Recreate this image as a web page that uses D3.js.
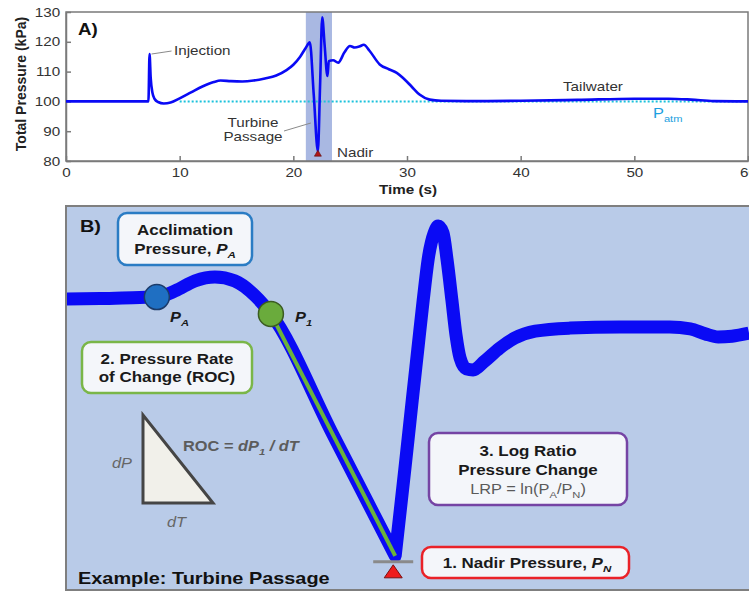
<!DOCTYPE html>
<html>
<head>
<meta charset="utf-8">
<script src="https://cdn.jsdelivr.net/npm/d3@7"></script>
<style>
  body { margin: 0; background: #fff; }
  svg { display: block; }
  text { font-family: "Liberation Sans", Arial, Helvetica, sans-serif; }
</style>
</head>
<body>
<svg id="fig" width="749" height="596"></svg>
<script>
// ---- Panel A: measured total pressure during passage ----
const timeA = [0, 7.25, 7.35, 7.45, 7.6, 7.8, 8.1, 8.6, 9.2, 10, 11, 12, 13, 13.6, 14.5, 15.5, 16.5, 17.5,
  18.5, 19.4, 20.0, 20.6, 21.1, 21.45, 21.8, 22.16, 22.35, 22.54, 22.75, 23.0, 23.12, 23.5, 23.95,
  24.5, 24.98, 25.4, 25.8, 26.2, 26.7, 27.6, 28.4, 29.1, 29.7, 30.4, 31.1, 32, 33, 36, 40, 45, 50,
  53, 55, 57, 60];
const pressureA = [100, 100, 115.9, 108, 103, 100.8, 99.8, 99.3, 99.6, 101, 103, 105, 106.5, 107, 106.8,
  106.7, 107, 107.7, 108.7, 110.5, 112.3, 115, 118, 119.8, 102, 83.3, 105, 128.2, 119, 108.5, 113.5,
  113.8, 113, 116.5, 118.6, 118.1, 118.4, 119, 117, 112.4, 110.8, 109.6, 107.7, 105, 102.3, 100.6,
  100.2, 100.1, 100.2, 100.5, 100.9, 100.9, 100.6, 100.1, 100];
const timeTicks = [0, 10, 20, 30, 40, 50, 60];
const pressureTicks = [80, 90, 100, 110, 120, 130];
const atmPressure = 100;
const atmLineStart = 10;
const passageWindow = [21.1, 23.4];
const nadirIndexA = 25;
const injectionIndexA = 2;

// ---- Panel B: schematic pressure trace (arbitrary units) ----
const schemT = [0, 5.0, 10.8, 13.3, 16.0, 18.9, 21.8, 24.7, 27.7, 30.0, 39.1, 48.2, 49.6, 50.7, 51.5,
  52.3, 53.1, 53.9, 54.5, 55.2, 55.8, 56.5, 57.1, 57.7, 58.6, 59.6, 61.3, 63.5, 65.7, 68.7, 73.8,
  81.1, 88.4, 91.4, 93.6, 95.5, 97.5, 100];
const schemP = [75.8, 75.9, 76.2, 76.3, 77.9, 80.5, 81.5, 80.5, 76.6, 71.9, 40.4, 8.9, 31.3, 49.5, 62.5,
  75.5, 87.0, 93.0, 94.8, 93.0, 85.9, 75.5, 66.4, 60.4, 57.6, 57.3, 59.6, 63.0, 65.6, 67.4, 68.2,
  68.5, 68.5, 68.0, 66.7, 65.9, 66.1, 66.9];
const idxPA = 3, idxP1 = 9, idxNadir = 11;

const SX = 1.17; // horizontal stretch used by the figure's lettering
const FONT = '"Liberation Sans", Arial, Helvetica, sans-serif';
const svg = d3.select("#fig");

// Text with optional italic / subscript runs: parts = [[string, flags]], flags: "i" italic, "s" subscript
function addText(parent, x, y, parts, o = {}) {
  const size = o.size || 13;
  const g = parent.append("g")
    .attr("transform", `translate(${x},${y})${o.rotate ? ` rotate(${o.rotate})` : ""} scale(${o.sx ?? SX},1)`);
  const t = g.append("text")
    .attr("text-anchor", o.anchor || "start")
    .attr("font-size", size)
    .attr("font-weight", o.weight || "normal")
    .attr("fill", o.fill || "#333");
  if (o.italic) t.attr("font-style", "italic");
  let shifted = false;
  (typeof parts === "string" ? [[parts, ""]] : parts).forEach(([s, f]) => {
    const sp = t.append("tspan").text(s);
    if (f.includes("i")) sp.attr("font-style", "italic");
    const sub = f.includes("s");
    if (sub) sp.attr("font-size", size * 0.68);
    if (sub && !shifted) { sp.attr("dy", size * 0.3); shifted = true; }
    else if (!sub && shifted) { sp.attr("dy", -size * 0.3); shifted = false; }
  });
  return g;
}

// =================== Panel A ===================
const xA = d3.scaleLinear().domain([0, 60]).range([66, 748]);
const yA = d3.scaleLinear().domain([80, 130]).range([161, 12]);
const gA = svg.append("g");

// turbine passage window
gA.append("rect")
  .attr("x", xA(passageWindow[0])).attr("y", yA(130))
  .attr("width", xA(passageWindow[1]) - xA(passageWindow[0]))
  .attr("height", yA(80) - yA(130))
  .attr("fill", "#a9b8e2");

// frame
gA.append("rect")
  .attr("x", xA(0)).attr("y", yA(130))
  .attr("width", xA(60) - xA(0)).attr("height", yA(80) - yA(130))
  .attr("fill", "none").attr("stroke", "#7a7a7a").attr("stroke-width", 1.5);

const axB = gA.append("g")
  .attr("transform", `translate(0,${yA(80)})`)
  .call(d3.axisBottom(xA).tickValues(timeTicks).tickSize(-5).tickSizeOuter(0).tickPadding(7));
const axL = gA.append("g")
  .attr("transform", `translate(${xA(0)},0)`)
  .call(d3.axisLeft(yA).tickValues(pressureTicks).tickSize(-5).tickSizeOuter(0).tickPadding(5));
[axB, axL].forEach(ax => {
  ax.attr("font-family", FONT).attr("font-size", 13);
  ax.select(".domain").attr("stroke", "#7a7a7a").attr("stroke-width", 1.5);
  ax.selectAll(".tick line").attr("stroke", "#7a7a7a").attr("stroke-width", 1.5);
  ax.selectAll(".tick text").attr("fill", "#333").attr("transform", `scale(${SX},1)`);
});

// atmospheric reference
gA.append("line")
  .attr("x1", xA(atmLineStart)).attr("x2", xA(60))
  .attr("y1", yA(atmPressure)).attr("y2", yA(atmPressure))
  .attr("stroke", "#1cc2dc").attr("stroke-width", 2).attr("stroke-dasharray", "2,2");

const lineA = d3.line().x((d, i) => xA(timeA[i])).y(d => yA(d)).curve(d3.curveMonotoneX);
gA.append("path").datum(pressureA)
  .attr("d", lineA).attr("fill", "none")
  .attr("stroke", "#0a0af5").attr("stroke-width", 2.6).attr("stroke-linejoin", "round");

// nadir marker
const nx = xA(timeA[nadirIndexA]), ny = yA(pressureA[nadirIndexA]);
gA.append("path")
  .attr("d", `M${nx},${ny - 1}L${nx + 3.5},${ny + 5}L${nx - 3.5},${ny + 5}Z`)
  .attr("fill", "#b01515").attr("stroke", "#5a0a0a").attr("stroke-width", 0.6);

// leaders
const ix = xA(timeA[injectionIndexA]), iy = yA(pressureA[injectionIndexA]);
gA.append("line").attr("x1", ix + 2).attr("y1", iy).attr("x2", ix + 22).attr("y2", iy - 3)
  .attr("stroke", "#8a8a8a").attr("stroke-width", 1);
gA.append("line").attr("x1", 284).attr("y1", 131).attr("x2", xA(passageWindow[0]) + 5).attr("y2", 123)
  .attr("stroke", "#8a8a8a").attr("stroke-width", 1);

addText(gA, 78, 35, "A)", { size: 16, weight: "bold", fill: "#111" });
addText(gA, 174, 55, "Injection", { size: 13 });
addText(gA, 253, 127, "Turbine", { size: 13, anchor: "middle" });
addText(gA, 253, 141, "Passage", { size: 13, anchor: "middle" });
addText(gA, 337, 157, "Nadir", { size: 13 });
addText(gA, 563, 91, "Tailwater", { size: 13 });
addText(gA, 653, 118, [["P", ""], ["atm", "s"]], { size: 14, fill: "#1c9fe0" });
addText(gA, 26, 84, "Total Pressure (kPa)", { size: 14, weight: "bold", anchor: "middle", rotate: -90, sx: 1, fill: "#222" });
addText(gA, 408, 194, "Time (s)", { size: 13, weight: "bold", anchor: "middle", fill: "#222" });

// =================== Panel B ===================
const xB = d3.scaleLinear().domain([0, 100]).range([66, 749]);
const yB = d3.scaleLinear().domain([0, 100]).range([590, 206]);
const gB = svg.append("g");

gB.append("defs").append("clipPath").attr("id", "clipB")
  .append("rect").attr("x", 67).attr("y", 207).attr("width", 700).attr("height", 382);

gB.append("rect")
  .attr("x", 66).attr("y", 206).attr("width", 700).attr("height", 384)
  .attr("fill", "#b9cbe8").attr("stroke", "#7f7f7f").attr("stroke-width", 2);

// schematic trace: two monotone pieces joined at the nadir so the V stays sharp
const lineB = d3.line().x(i => xB(schemT[i])).y(i => yB(schemP[i])).curve(d3.curveMonotoneX);
const idx = d3.range(schemT.length);
const pathB = lineB(idx.slice(0, idxNadir + 1)) + lineB(idx.slice(idxNadir)).replace(/^M/, "L");
gB.append("path").attr("d", pathB).attr("clip-path", "url(#clipB)")
  .attr("fill", "none").attr("stroke", "#0a0af5").attr("stroke-width", 13)
  .attr("stroke-linejoin", "round");

// rate-of-change segment
gB.append("path")
  .attr("d", d3.line().x(i => xB(schemT[i])).y(i => yB(schemP[i]))(idx.slice(idxP1, idxNadir + 1)))
  .attr("fill", "none").attr("stroke", "#6cb13c").attr("stroke-width", 4);

// nadir marker
const bx = xB(schemT[idxNadir]) - 2, by = yB(schemP[idxNadir]);
gB.append("line").attr("x1", bx - 20).attr("x2", bx + 20).attr("y1", by + 6).attr("y2", by + 6)
  .attr("stroke", "#8a8a8a").attr("stroke-width", 3);
gB.append("path")
  .attr("d", `M${bx},${by + 9}L${bx + 9},${by + 22}L${bx - 9},${by + 22}Z`)
  .attr("fill", "#ee1c1c").attr("stroke", "#7a1010").attr("stroke-width", 1);

// marked points
gB.append("circle").attr("cx", xB(schemT[idxPA])).attr("cy", yB(schemP[idxPA])).attr("r", 12.5)
  .attr("fill", "#1f6fc2").attr("stroke", "#1b3b6a").attr("stroke-width", 1.5);
gB.append("circle").attr("cx", xB(schemT[idxP1])).attr("cy", yB(schemP[idxP1])).attr("r", 12.5)
  .attr("fill", "#6aab3c").attr("stroke", "#3b5c22").attr("stroke-width", 1.5);

// dP/dT triangle
gB.append("path").attr("d", "M143,415L143,503L213,503Z")
  .attr("fill", "#f1f0ea").attr("stroke", "#454545").attr("stroke-width", 3).attr("stroke-linejoin", "miter");

// text boxes
function box(x, y, w, h, color) {
  gB.append("rect").attr("x", x).attr("y", y).attr("width", w).attr("height", h).attr("rx", 9)
    .attr("fill", "#f4f6fa").attr("stroke", color).attr("stroke-width", 2.5);
}
box(118, 213, 134, 52, "#2a7cc4");
box(82, 342, 170, 51, "#7ab648");
box(429, 433, 198, 72, "#7544a4");
box(422, 547, 207, 31, "#ea2228");

const bold = { size: 14.5, weight: "bold", anchor: "middle", fill: "#1a1a1a" };
addText(gB, 80, 232, "B)", { size: 17, weight: "bold", fill: "#111" });
addText(gB, 185, 235, "Acclimation", bold);
addText(gB, 185, 254, [["Pressure, ", ""], ["P", "i"], ["A", "is"]], bold);
addText(gB, 167, 364, "2. Pressure Rate", bold);
addText(gB, 167, 382, "of Change (ROC)", bold);
addText(gB, 528, 456, "3. Log Ratio", bold);
addText(gB, 528, 475, "Pressure Change", bold);
addText(gB, 528, 494, [["LRP = ln(P", ""], ["A", "s"], ["/P", ""], ["N", "s"], [")", ""]],
  { size: 14, anchor: "middle", fill: "#5a5a5a" });
addText(gB, 527, 568, [["1. Nadir Pressure, ", ""], ["P", "i"], ["N", "is"]], bold);

addText(gB, 170, 322, [["P", ""], ["A", "s"]], { size: 14, weight: "bold", italic: true, fill: "#1a1a1a" });
addText(gB, 295, 322, [["P", ""], ["1", "s"]], { size: 14, weight: "bold", italic: true, fill: "#1a1a1a" });

addText(gB, 183, 451, [["ROC = ", ""], ["dP", "i"], ["1", "is"], [" / ", "i"], ["dT", "i"]],
  { size: 14, weight: "bold", fill: "#5c5c5c" });
addText(gB, 112, 468, "dP", { size: 14, italic: true, fill: "#666" });
addText(gB, 167, 527, "dT", { size: 14, italic: true, fill: "#666" });

addText(gB, 78, 584, "Example: Turbine Passage", { size: 17, weight: "bold", fill: "#111" });
</script>
</body>
</html>
